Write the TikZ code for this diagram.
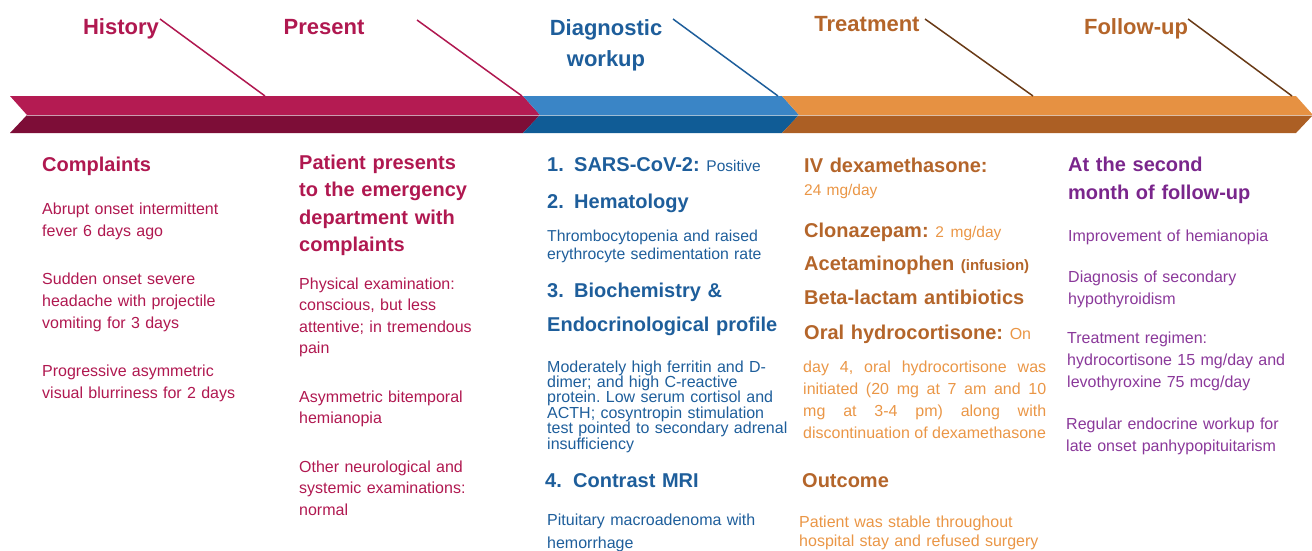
\documentclass[tikz,border=0pt]{standalone}
\usepackage{fontspec}
\setmainfont{Liberation Sans}
\usetikzlibrary{positioning}
\frenchspacing

\definecolor{histc}{RGB}{176,24,80}
\definecolor{histtop}{RGB}{180,27,82}
\definecolor{histbot}{RGB}{125,13,55}
\definecolor{diagc}{RGB}{30,94,155}
\definecolor{diagtop}{RGB}{58,133,198}
\definecolor{diagbot}{RGB}{16,92,150}
\definecolor{treatc}{RGB}{180,101,42}
\definecolor{treatlight}{RGB}{234,150,70}
\definecolor{treattop}{RGB}{230,145,66}
\definecolor{treatbot}{RGB}{172,95,36}
\definecolor{tickbrown}{RGB}{105,58,22}
\definecolor{followc}{RGB}{122,38,140}
\definecolor{followlight}{RGB}{138,56,154}

\begin{document}
\begin{tikzpicture}[x=1pt, y=-1pt,
    title/.style = {font=\fontsize{22}{31}\selectfont\bfseries, inner sep=0pt, anchor=base},
    head/.style = {font=\fontsize{20}{27.5}\selectfont\bfseries, inner sep=0pt, anchor=base west, text width=245pt, align=left},
    body/.style = {font=\fontsize{16}{22}\selectfont, inner sep=0pt, anchor=base west, text width=245pt, align=left},
    tick/.style = {line width=1.5pt}
]
\useasboundingbox (0,0) rectangle (1312,550);

% Band corners
\coordinate (b0t) at (10,96);  \coordinate (b0m) at (27,115);  \coordinate (b0b) at (10,133);
\coordinate (b1t) at (523,96); \coordinate (b1m) at (540,115); \coordinate (b1b) at (523,133);
\coordinate (b2t) at (782,96); \coordinate (b2m) at (799,115); \coordinate (b2b) at (782,133);
\coordinate (b3t) at (1296,96); \coordinate (b3m) at (1313,115); \coordinate (b3b) at (1296,133);

% Band
\fill[histtop] (b0t) -- (b1t) -- (b1m) -- (b0m) -- cycle;
\fill[histbot] (b0m) -- (b1m) -- (b1b) -- (b0b) -- cycle;
\fill[diagtop] (b1t) -- (b2t) -- (b2m) -- (b1m) -- cycle;
\fill[diagbot] (b1m) -- (b2m) -- (b2b) -- (b1b) -- cycle;
\fill[treattop] (b2t) -- (b3t) -- (b3m) -- (b2m) -- cycle;
\fill[treatbot] (b2m) -- (b3m) -- (b3b) -- (b2b) -- cycle;
\draw[white, opacity=0.6, line width=1pt] (b0m) -- (b3m);

% Stage titles
\node[title, text=histc] (history) at (121,34) {History};
\node[title, text=histc] (present) at (324,34) {Present};
\node[title, text=diagc, text width=150pt, align=center, font=\fontsize{22}{31}\selectfont\bfseries] (diagnostic) at (606,35) {Diagnostic\\workup};
\node[title, text=treatc] (treatment) at (867,31) {Treatment};
\node[title, text=treatc] (followup) at (1136,34) {Follow-up};

% Ticks from the titles down to the band
\coordinate (h0) at (160,19);  \coordinate (h1) at (265,96);
\coordinate (p0) at (417,20);  \coordinate (p1) at (522,96);
\coordinate (d0) at (673,19);  \coordinate (d1) at (778,96);
\coordinate (t0) at (925,19);  \coordinate (t1) at (1033,96);
\coordinate (f0) at (1188,19); \coordinate (f1) at (1292,96);
\draw[tick, histc] (h0) -- (h1);
\draw[tick, histc] (p0) -- (p1);
\draw[tick, diagc] (d0) -- (d1);
\draw[tick, tickbrown] (t0) -- (t1);
\draw[tick, tickbrown] (f0) -- (f1);

% History
\node[head, text=histc] (complaints) at (42,171) {Complaints};
\node[body, text=histc] (c1) at (42,214) {Abrupt onset intermittent\\fever 6 days ago};
\node[body, text=histc] (c2) at (42,284) {Sudden onset severe\\headache with projectile\\vomiting for 3 days};
\node[body, text=histc] (c3) at (42,376) {Progressive asymmetric\\visual blurriness for 2 days};

% Present
\node[head, text=histc] (arrival) at (299,169) {Patient presents\\to the emergency\\department with\\complaints};
\node[body, text=histc, font=\fontsize{16}{21.5}\selectfont] (p1) at (299,289) {Physical examination:\\conscious, but less\\attentive; in tremendous\\pain};
\node[body, text=histc, font=\fontsize{16}{21.5}\selectfont] (p2) at (299,402) {Asymmetric bitemporal\\hemianopia};
\node[body, text=histc, font=\fontsize{16}{21.5}\selectfont] (p3) at (299,472) {Other neurological and\\systemic examinations:\\normal};

% Diagnostic workup
\node[head, text=diagc] (sars) at (547,171) {\makebox[27pt][l]{1.}SARS-CoV-2: {\mdseries\fontsize{15.5}{18}\selectfont Positive}};
\node[head, text=diagc] (hema) at (547,208) {\makebox[27pt][l]{2.}Hematology};
\node[body, text=diagc, font=\fontsize{15.8}{18.5}\selectfont] (d2) at (547,241) {Thrombocytopenia and raised\\erythrocyte sedimentation rate};
\node[head, text=diagc] (bioc) at (547,297) {\makebox[27pt][l]{3.}Biochemistry \&\\[6.5pt]Endocrinological profile};
\node[body, text=diagc, font=\fontsize{16}{15.4}\selectfont] (d3) at (547,372) {Moderately high ferritin and D-\\dimer; and high C-reactive\\protein. Low serum cortisol and\\ACTH; cosyntropin stimulation\\test pointed to secondary adrenal\\insufficiency};
\node[head, text=diagc] (mri) at (545,487) {\makebox[28pt][l]{4.}Contrast MRI};
\node[body, text=diagc, font=\fontsize{16}{23}\selectfont] (d4) at (547,525) {Pituitary macroadenoma with\\hemorrhage};

% Treatment
\node[head, text=treatc] (dexa) at (804,172) {IV dexamethasone:};
\node[body, text=treatlight, font=\fontsize{15.5}{22}\selectfont] (dexadose) at (804,195) {24 mg/day};
\node[head, text=treatc] (clona) at (804,237) {Clonazepam: {\mdseries\color{treatlight}\fontsize{15.5}{18}\selectfont 2 mg/day}};
\node[head, text=treatc] (aceta) at (804,270) {Acetaminophen {\fontsize{15}{18}\selectfont (infusion)}};
\node[head, text=treatc] (beta) at (804,304) {Beta-lactam antibiotics};
\node[head, text=treatc] (hydro) at (804,339) {Oral hydrocortisone: {\mdseries\color{treatlight}\fontsize{16}{18}\selectfont On}};
\node[body, text=treatlight, text width=243pt, align=justify] (t1) at (803,372) {day 4, oral hydrocortisone was\linebreak initiated (20 mg at 7 am and 10\linebreak mg at 3-4 pm) along with\linebreak discontinuation of dexamethasone};
\node[head, text=treatc] (outcome) at (802,487) {Outcome};
\node[body, text=treatlight, font=\fontsize{16}{19}\selectfont] (t2) at (799,527) {Patient was stable throughout\\hospital stay and refused surgery};

% Follow-up
\node[head, text=followc, font=\fontsize{20}{28}\selectfont\bfseries] (month) at (1068,171) {At the second\\month of follow-up};
\node[body, text=followlight] (f1) at (1068,241) {Improvement of hemianopia};
\node[body, text=followlight] (f2) at (1068,282) {Diagnosis of secondary\\hypothyroidism};
\node[body, text=followlight] (f3) at (1067,343) {Treatment regimen:\\hydrocortisone 15 mg/day and\\levothyroxine 75 mcg/day};
\node[body, text=followlight] (f4) at (1066,429) {Regular endocrine workup for\\late onset panhypopituitarism};

\end{tikzpicture}
\end{document}
